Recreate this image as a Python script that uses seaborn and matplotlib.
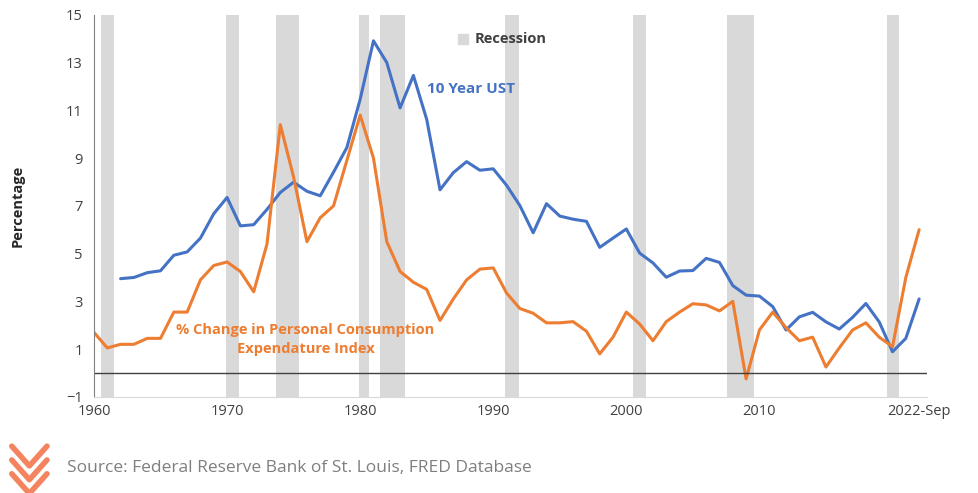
import numpy as np
import pandas as pd
import matplotlib
matplotlib.use('Agg')
import matplotlib.pyplot as plt
import seaborn as sns

years = list(range(1960, 2023))
pce = [1.7, 1.05, 1.2, 1.2, 1.45, 1.45, 2.55, 2.55, 3.9, 4.5, 4.65, 4.25, 3.4, 5.4, 10.4, 8.2,
       5.5, 6.5, 7.0, 8.9, 10.8, 9.0, 5.5, 4.25, 3.8, 3.5, 2.2, 3.1, 3.9, 4.35, 4.4, 3.35,
       2.7, 2.5, 2.1, 2.1, 2.15, 1.75, 0.8, 1.5, 2.55, 2.05, 1.35, 2.15, 2.55, 2.9, 2.85, 2.6,
       3.0, -0.25, 1.8, 2.55, 1.9, 1.35, 1.5, 0.25, 1.05, 1.8, 2.1, 1.5, 1.1, 4.0, 6.0]
ust_years = list(range(1962, 2023))
ust = [3.95, 4.0, 4.2, 4.28, 4.93, 5.07, 5.65, 6.67, 7.35, 6.16, 6.21, 6.85, 7.56, 7.99,
       7.61, 7.42, 8.41, 9.44, 11.46, 13.91, 13.0, 11.1, 12.46, 10.62, 7.67, 8.39, 8.85,
       8.49, 8.55, 7.86, 7.01, 5.87, 7.09, 6.57, 6.44, 6.35, 5.26, 5.65, 6.03, 5.02, 4.61,
       4.01, 4.27, 4.29, 4.80, 4.63, 3.66, 3.26, 3.22, 2.78, 1.80, 2.35, 2.54, 2.14, 1.84,
       2.33, 2.91, 2.14, 0.89, 1.45, 3.1]
recessions = [(1960.5, 1961.5), (1969.9, 1970.9), (1973.7, 1975.4), (1979.9, 1980.7),
              (1981.5, 1983.4), (1990.9, 1991.9), (2000.5, 2001.5), (2007.6, 2009.6),
              (2019.6, 2020.5)]
tick_years = [1960, 1970, 1980, 1990, 2000, 2010, 2022]
tick_labels = ['1960', '1970', '1980', '1990', '2000', '2010', '2022-Sep']

sns.set_style('white')
plt.rcParams['font.family'] = ['Open Sans', 'DejaVu Sans']

fig = plt.figure(figsize=(9.79, 4.93), dpi=100)
ax = fig.add_axes([0.096, 0.195, 0.851, 0.775])
for a, b in recessions:
    ax.axvspan(a, b, color='#d9d9d9', lw=0, zorder=0)
sns.lineplot(x=ust_years, y=ust, ax=ax, color='#4472C4', lw=2.2)
sns.lineplot(x=years, y=pce, ax=ax, color='#ED7D31', lw=2.2)
ax.axhline(0, color='#404040', lw=1)
ax.set_xlim(1960, 2022.6)
ax.set_ylim(-1, 15)
ax.set_yticks(range(-1, 16, 2))
ax.set_xticks(tick_years)
ax.set_xticklabels(tick_labels)
ax.tick_params(labelsize=10.5, colors='#404040', length=0)
ax.tick_params(axis='y', pad=8)
ax.tick_params(axis='x', pad=5)
for s in ['top', 'right']:
    ax.spines[s].set_visible(False)
ax.spines['left'].set_color('#808080')
ax.spines['bottom'].set_color('#d9d9d9')
ax.set_ylabel('Percentage', fontsize=10.5, fontweight='bold', labelpad=30)
ax.text(1985, 11.9, '10 Year UST', color='#4472C4', fontsize=11, fontweight='bold', va='center')
ax.text(1975.9, 2.1, '% Change in Personal Consumption\nExpendature Index', color='#ED7D31',
        fontsize=10.5, fontweight='bold', ha='center', va='top', linespacing=1.5)
ax.scatter([1987.7], [14.0], marker='s', s=50, color='#d9d9d9')
ax.text(1988.6, 14.0, 'Recession', fontsize=10.5, fontweight='bold', color='#404040', va='center')

# logo chevrons
for i in range(3):
    y0 = 0.095 - i * 0.028
    fig.add_artist(plt.Line2D([0.012, 0.03, 0.048], [y0, y0 - 0.04, y0], color='#F4845F',
                              lw=4, transform=fig.transFigure))
fig.text(0.068, 0.05, 'Source: Federal Reserve Bank of St. Louis, FRED Database',
         fontsize=12.5, color='#7f7f7f', va='center')
fig.savefig('out.png', dpi=100)
